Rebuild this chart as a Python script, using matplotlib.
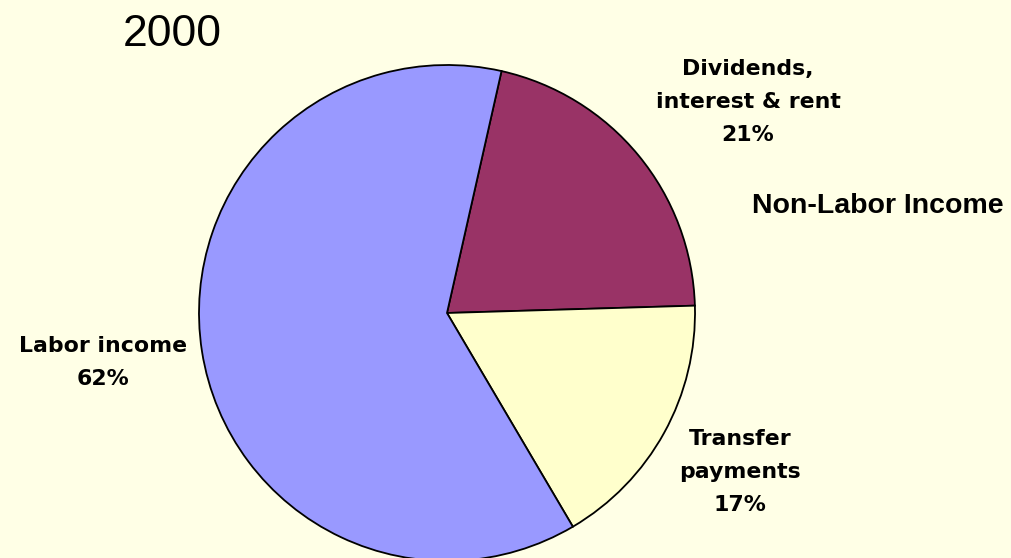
import matplotlib
matplotlib.use("Agg")
import matplotlib.pyplot as plt

W, H = 1011, 558

# Data
categories = ["Dividends,\ninterest & rent", "Transfer\npayments", "Labor income"]
shares = [21, 17, 62]
title_text = "2000"
group_label = "Non-Labor Income"

colors = ["#993366", "#FFFFCC", "#9999FF"]
bg = "#FFFFE6"

fig = plt.figure(figsize=(W / 100, H / 100), dpi=100, facecolor=bg)

cx, cy, r = 447, 313, 248
ax = fig.add_axes([(cx - r) / W, (H - cy - r) / H, 2 * r / W, 2 * r / H])
ax.set_facecolor("none")
ax.pie(shares, colors=colors, startangle=77.3, counterclock=False,
       wedgeprops=dict(edgecolor="black", linewidth=1.3), radius=1.0)
ax.set_xlim(-1, 1)
ax.set_ylim(-1, 1)
ax.set_aspect("equal")
ax.axis("off")


def px(x, y):
    return x / W, 1 - y / H


# Title
fig.text(*px(172, 46), title_text, ha="center", va="baseline",
         fontsize=32, family="Liberation Sans", color="black")

# Group label
fig.text(*px(878, 213), group_label, ha="center", va="baseline",
         fontsize=20.5, fontweight="bold", family="Liberation Sans", color="black")

# Slice labels (centre x, first baseline y)
label_pos = [(748, 75), (740, 445), (103, 352)]
for name, val, (lx, ly) in zip(categories, shares, label_pos):
    lines = name.split("\n") + [f"{val}%"]
    for i, line in enumerate(lines):
        fig.text(*px(lx, ly + i * 33), line, ha="center", va="baseline",
                 fontsize=15.8, fontweight="bold", family="DejaVu Sans",
                 color="black")

fig.savefig("out.png", dpi=100, facecolor=bg)
